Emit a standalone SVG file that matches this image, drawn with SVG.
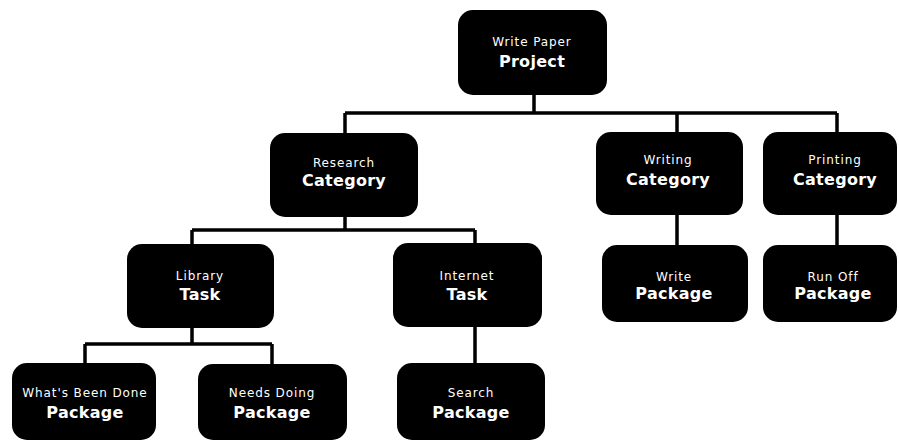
<svg xmlns="http://www.w3.org/2000/svg" width="899" height="441" viewBox="0 0 899 441">
<style>
.box{fill:#000;}
.sm{font-family:"DejaVu Sans","Liberation Sans",sans-serif;font-size:12px;fill:#fff;text-anchor:middle;letter-spacing:0.9px;}
.bd{font-family:"DejaVu Sans","Liberation Sans",sans-serif;font-size:16px;font-weight:bold;fill:#fff;text-anchor:middle;letter-spacing:0.3px;}
.ln{stroke:#000;stroke-width:3.5;fill:none;}
</style>
<rect width="899" height="441" fill="#fff"/>
<g id="connectors">
<path class="ln" d="M534 95V113M345 113H837M345 113V133M677 113V132M837 113V132"/>
<path class="ln" d="M345 217V230M192 230H475M192 230V244M475 230V243"/>
<path class="ln" d="M192 328V344M85 344H272M85 344V363M272 344V364"/>
<path class="ln" d="M475 327V363M677 215V245M837 215V245"/>
</g>
<g id="project">
<rect class="box" x="458" y="10" width="149" height="85" rx="15"/>
<text class="sm" x="532" y="46">Write Paper</text>
<text class="bd" x="532" y="67">Project</text>
</g>
<g id="research">
<rect class="box" x="270" y="133" width="148" height="84" rx="15"/>
<text class="sm" x="344" y="167">Research</text>
<text class="bd" x="344" y="186">Category</text>
</g>
<g id="writing">
<rect class="box" x="596" y="132" width="147" height="83" rx="15"/>
<text class="sm" x="668" y="164">Writing</text>
<text class="bd" x="668" y="185">Category</text>
</g>
<g id="printing">
<rect class="box" x="763" y="132" width="134" height="83" rx="15"/>
<text class="sm" x="835" y="164">Printing</text>
<text class="bd" x="835" y="185">Category</text>
</g>
<g id="library">
<rect class="box" x="127" y="244" width="147" height="84" rx="15"/>
<text class="sm" x="200" y="280">Library</text>
<text class="bd" x="200" y="300">Task</text>
</g>
<g id="internet">
<rect class="box" x="393" y="243" width="149" height="84" rx="15"/>
<text class="sm" x="467" y="280">Internet</text>
<text class="bd" x="467" y="300">Task</text>
</g>
<g id="write">
<rect class="box" x="602" y="245" width="146" height="77" rx="15"/>
<text class="sm" x="674" y="281">Write</text>
<text class="bd" x="674" y="299">Package</text>
</g>
<g id="runoff">
<rect class="box" x="763" y="245" width="134" height="77" rx="15"/>
<text class="sm" x="833" y="281">Run Off</text>
<text class="bd" x="833" y="299">Package</text>
</g>
<g id="whatsdone">
<rect class="box" x="12" y="363" width="144" height="77" rx="15"/>
<text class="sm" x="85" y="397">What's Been Done</text>
<text class="bd" x="85" y="418">Package</text>
</g>
<g id="needsdoing">
<rect class="box" x="198" y="364" width="149" height="76" rx="15"/>
<text class="sm" x="272" y="397">Needs Doing</text>
<text class="bd" x="272" y="418">Package</text>
</g>
<g id="search">
<rect class="box" x="397" y="363" width="148" height="77" rx="15"/>
<text class="sm" x="471" y="397">Search</text>
<text class="bd" x="471" y="418">Package</text>
</g>
</svg>
